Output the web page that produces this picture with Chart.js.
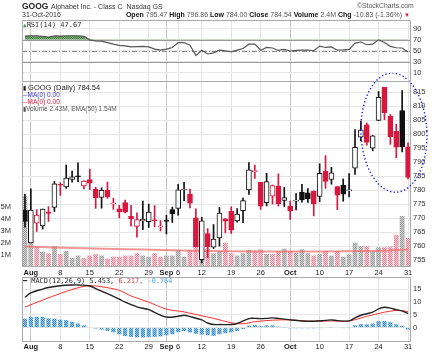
<!DOCTYPE html>
<html lang="en">
<head>
<meta charset="UTF-8">
<title>GOOG daily</title>
<script src="https://cdn.jsdelivr.net/npm/chart.js"></script>
<style>
  body { margin: 0; background: #fff; }
  #wrap { position: relative; width: 435px; height: 352px; overflow: hidden; font-family: "Liberation Sans", Arial, sans-serif; color: #222; }
  canvas { position: absolute; left: 0; }
  .t { position: absolute; white-space: nowrap; z-index: 5; line-height: 1; }
  .mono { font-family: "DejaVu Sans Mono", monospace; }
</style>
</head>
<body>
<div id="wrap">
  <canvas id="mainChart" width="435" height="282" style="top:0;z-index:1"></canvas>
  <canvas id="rsiChart" width="435" height="90" style="top:0;z-index:2"></canvas>
  <canvas id="macdChart" width="435" height="84" style="top:268px;z-index:1"></canvas>

  <div class="t" style="left:22px;top:2px;font-weight:bold;font-size:8.5px;">GOOG</div>
  <div class="t" style="left:51px;top:3px;font-size:7px;color:#333;">Alphabet Inc. - Class C&nbsp; Nasdaq GS</div>
  <div class="t" style="left:357px;top:3px;font-size:6.8px;color:#555;">&copy;StockCharts.com</div>
  <div class="t" style="left:22px;top:11px;font-size:7px;color:#333;">31-Oct-2016</div>
  <div class="t" style="right:25px;top:11px;font-size:7px;color:#555;"><b style="color:#111">Open</b> 795.47 <b style="color:#111">High</b> 796.86 <b style="color:#111">Low</b> 784.00 <b style="color:#111">Close</b> 784.54 <b style="color:#111">Volume</b> 2.4M <b style="color:#111">Chg</b> -10.83 (-1.36%) <span style="color:#d8173f;font-size:6px">&#9660;</span></div>

  <div class="t mono" style="left:23px;top:22px;font-size:7px;color:#333;"><span style="color:#4f8a4f;font-size:6px">&#9650;</span>RSI(14) 47.67</div>

  <div class="t" style="left:23px;top:84px;font-size:7.5px;color:#222;"><span style="font-size:6px">&#9646;</span> GOOG (Daily) 784.54</div>
  <div class="t" style="left:23px;top:92px;font-size:6.5px;color:#3434c8;">&#9472;MA(0) 0.00</div>
  <div class="t" style="left:23px;top:99px;font-size:6.5px;color:#e0203c;">&#9472;MA(0) 0.00</div>
  <div class="t" style="left:23px;top:106px;font-size:6.5px;color:#555;"><span style="font-size:6px">&#9646;</span>Volume 2.43M, EMA(50) 1.54M</div>

  <div class="t mono" style="left:23px;top:278px;font-size:6.9px;color:#222;">&#9473; MACD(12,26,9) 5.453, <span style="color:#f03a3a">6.217,</span> <span style="color:#4aa3df">-0.764</span></div>
</div>

<script>
  // trading days shown on the chart
  const dates = ['Jul 29',
    'Aug 1', 'Aug 2', 'Aug 3', 'Aug 4', 'Aug 5', 'Aug 8', 'Aug 9', 'Aug 10', 'Aug 11', 'Aug 12',
    'Aug 15', 'Aug 16', 'Aug 17', 'Aug 18', 'Aug 19', 'Aug 22', 'Aug 23', 'Aug 24', 'Aug 25', 'Aug 26',
    'Aug 29', 'Aug 30', 'Aug 31',
    'Sep 1', 'Sep 2', 'Sep 6', 'Sep 7', 'Sep 8', 'Sep 9', 'Sep 12', 'Sep 13', 'Sep 14', 'Sep 15', 'Sep 16',
    'Sep 19', 'Sep 20', 'Sep 21', 'Sep 22', 'Sep 23', 'Sep 26', 'Sep 27', 'Sep 28', 'Sep 29', 'Sep 30',
    'Oct 3', 'Oct 4', 'Oct 5', 'Oct 6', 'Oct 7', 'Oct 10', 'Oct 11', 'Oct 12', 'Oct 13', 'Oct 14',
    'Oct 17', 'Oct 18', 'Oct 19', 'Oct 20', 'Oct 21', 'Oct 24', 'Oct 25', 'Oct 26', 'Oct 27', 'Oct 28', 'Oct 31'];

  const ohlcOpen = [772.71,
    761.09, 768.2, 767.18, 772.22, 773.78, 782.0, 781.1, 783.75, 785.0, 781.5,
    783.75, 780.3, 777.32, 780.01, 775.0, 773.27, 775.48, 770.58, 767.0, 769.0,
    768.74, 769.33, 767.01,
    769.25, 773.01, 773.45, 780.0, 778.59, 770.1, 755.13, 764.48, 759.61, 762.89, 769.75,
    772.42, 769.0, 772.66, 780.0, 786.59, 782.74, 775.5, 777.85, 781.44, 776.33,
    774.25, 776.03, 779.31, 779.0, 779.66, 777.71, 786.66, 783.76, 781.22, 781.65,
    779.8, 787.85, 798.86, 803.3, 795.0, 804.9, 816.68, 806.34, 801.0, 808.35, 795.47];
  const ohlcHigh = [778.55,
    780.43, 773.0, 773.21, 774.07, 783.04, 782.63, 788.94, 786.81, 789.75, 783.4,
    787.49, 780.98, 780.81, 782.86, 777.1, 774.54, 776.44, 774.5, 771.89, 776.08,
    774.99, 774.47, 769.09,
    771.02, 773.92, 782.0, 782.73, 780.35, 773.24, 770.29, 766.22, 767.68, 773.8, 769.75,
    774.0, 773.33, 777.16, 789.85, 788.93, 782.74, 785.99, 781.81, 785.8, 780.94,
    776.07, 778.71, 782.07, 780.48, 779.66, 789.38, 792.28, 788.13, 781.22, 783.95,
    785.85, 801.61, 804.63, 803.97, 799.5, 815.18, 816.68, 806.98, 803.49, 815.49, 796.86];
  const ohlcLow = [766.77,
    761.09, 765.2, 766.07, 768.79, 772.34, 778.09, 780.57, 782.78, 782.97, 780.4,
    780.11, 773.44, 773.53, 777.0, 773.13, 770.05, 771.79, 767.07, 763.18, 765.85,
    766.62, 766.84, 765.38,
    764.3, 768.41, 771.0, 776.2, 773.58, 759.66, 754.0, 755.8, 759.11, 759.96, 764.66,
    764.44, 768.53, 768.3, 778.44, 784.15, 773.07, 774.31, 774.97, 774.23, 774.09,
    769.5, 772.89, 775.65, 775.54, 770.75, 775.87, 780.58, 782.06, 773.0, 776.0,
    777.5, 785.57, 797.64, 796.03, 794.0, 804.82, 805.14, 796.32, 791.5, 793.59, 784.0];
  const ohlcClose = [768.79,
    772.88, 771.07, 773.18, 771.61, 782.22, 781.76, 784.26, 784.68, 784.85, 783.22,
    782.44, 777.14, 779.91, 777.5, 775.42, 772.15, 772.08, 769.64, 769.41, 769.54,
    772.15, 769.09, 767.05,
    768.78, 771.46, 780.08, 780.35, 775.32, 759.66, 769.02, 759.69, 762.49, 771.76, 768.88,
    765.7, 771.41, 776.22, 787.21, 786.9, 774.21, 783.01, 781.56, 775.01, 777.29,
    772.56, 776.43, 776.47, 776.86, 775.08, 785.94, 783.07, 786.14, 778.19, 778.53,
    779.96, 795.26, 801.5, 796.97, 799.37, 813.11, 807.67, 799.07, 795.35, 795.37, 784.54];

  // volume, millions
  const volume = [5.9,
    3.0, 1.7, 1.28, 1.14, 1.75, 1.08, 1.33, 0.75, 0.95, 0.75,
    0.95, 1.08, 0.95, 0.7, 0.86, 0.86, 0.95, 0.95, 1.14, 0.95,
    0.86, 1.14, 0.86,
    0.95, 0.95, 1.42, 0.86, 1.42, 1.85, 1.45, 1.55, 1.14, 1.33, 2.03,
    1.14, 0.95, 1.14, 1.42, 1.36, 1.47, 1.08, 1.08, 1.31, 1.53,
    1.33, 1.19, 1.47, 1.14, 0.95, 1.08, 1.33, 0.95, 1.33, 0.86,
    1.06, 2.03, 1.75, 1.75, 1.28, 1.64, 1.64, 1.70, 2.67, 4.25, 2.43];
  const volEma = [1.70, null, null, null, null, null, null, null, null, null,
    1.56, null, null, null, null, null, null, null, null, null,
    1.45, null, null, null, null, null, null, null, null, null,
    1.34, null, null, null, null, null, null, null, null, null,
    1.30, null, null, null, null, null, null, null, null, null,
    1.30, null, null, null, null, null, null, null, 1.34, null,
    null, null, 1.38, null, null, 1.45];

  const rsi = [77, 77.5, 77.5, 76.5, 75, 77.5, 77, 77.5, 77.5, 77.5,
    76.5, 70, 68, 67.5, 65, 62, 60, 59, 57, 57.5,
    58, 57, 53, 51, 53, 56, 65, 65, 60, 41,
    51, 44, 46, 51, 50, 48, 51, 54, 62, 62,
    51, 56, 55, 50.5, 52.5, 49.5, 50.5, 51, 51, 50,
    58.5, 56, 57, 51, 51.5, 52.5, 64, 66, 61, 62,
    70, 65, 58, 55.5, 55, 47.67];

  const macd = [11.8, 13.5, null, 15.0, 15.6, null, 16.3, null, 16.6, 16.6,
    null, 16.2, 15.2, null, 13.2, null, 11.1, 9.9, null, 8.1,
    null, 7.0, 5.9, null, 4.1, null, 4.4, 4.8, 4.3, null,
    3.0, 1.8, 1.2, 1.2, null, 1.2, 1.6, null, 3.5, 3.6,
    3.5, 3.6, 3.8, 3.6, 3.3, 3.0, null, 2.6, null, 2.5,
    null, 2.8, 3.0, 2.7, null, 2.6, 3.8, 4.8, 5.4, 6.0,
    7.3, 7.9, 7.6, 7.0, 6.5, 5.453];
  const signal = [8.0, null, null, 10.7, null, null, 13.3, null, null, 15.5,
    null, 16.3, null, 15.9, null, null, 14.5, null, 12.3, null,
    null, 9.9, null, null, 7.2, null, null, 6.1, null, null,
    4.6, null, 3.6, null, null, 1.9, null, 1.5, null, 2.3,
    null, null, 2.9, null, null, 3.0, null, null, 2.5, null,
    null, null, 2.6, null, null, 2.6, null, null, 4.4, null,
    null, 6.0, null, 6.7, 6.6, 6.217];
  const hist = [3.5, 4.2, 4.2, 4.2, 3.6, 3.5, 3.1, 2.9, 2.3, 1.6,
    0.9, 0.2, -0.4, -0.8, -1.3, -1.8, -2.6, -3.3, -3.6, -3.8,
    -3.8, -3.7, -3.6, -3.4, -3.0, -2.6, -1.8, -1.4, -1.9, -2.4,
    -2.7, -3.0, -3.2, -2.6, -2.2, -1.8, -1.3, -0.6, 0.8, 1.0,
    0.6, 0.9, 0.9, 0.4, 0.1, -0.3, -0.3, -0.3, -0.3, -0.3,
    -0.1, 0.2, 0.3, 0.0, -0.1, -0.1, 0.9, 1.3, 1.3, 1.6,
    2.5, 2.6, 2.1, 1.3, 0.7, -0.764];

  // tick labels
  const tickDates = ['Aug 1', 'Aug 8', 'Aug 15', 'Aug 22', 'Aug 29', 'Sep 1', 'Sep 6', 'Sep 12', 'Sep 19', 'Sep 26',
    'Oct 3', 'Oct 10', 'Oct 17', 'Oct 24', 'Oct 31'];
  const tickTexts = ['Aug', '8', '15', '22', '29', 'Sep', '6', '12', '19', '26', 'Oct', '10', '17', '24', '31'];
  const monthTexts = ['Aug', 'Sep', 'Oct'];
  const priceTicks = [755, 760, 765, 770, 775, 780, 785, 790, 795, 800, 805, 810, 815];
  const volTicks = [1, 2, 3, 4, 5];
  const rsiTicks = [10, 30, 50, 70, 90];
  const macdTicks = [0, 5, 10, 15];

  const labelAt = dates.map(d => {
    const k = tickDates.indexOf(d);
    return k < 0 ? '' : tickTexts[k];
  });
  const isMonth = i => monthTexts.includes(labelAt[i]);

  Chart.defaults.font.family = '"Liberation Sans", Arial, sans-serif';
  Chart.defaults.animation = false;
  Chart.defaults.plugins.legend.display = false;
  Chart.defaults.plugins.tooltip.enabled = false;

  function hatch(c1, c2) {
    const p = document.createElement('canvas');
    p.width = 2; p.height = 2;
    const g = p.getContext('2d');
    g.fillStyle = c2; g.fillRect(0, 0, 2, 2);
    g.fillStyle = c1; g.fillRect(0, 0, 1, 1); g.fillRect(1, 1, 1, 1);
    return g.createPattern(p, 'repeat');
  }
  const grayHatch = hatch('#9a9a9a', '#d2d2d2');
  const pinkHatch = hatch('#ef7f93', '#fbd3db');
  const blueHatch = hatch('#2f85c4', '#9fcbea');
  const greenHatch = hatch('#3f7a3c', '#86b582');

  const RED = '#d8173f', BLACK = '#111';
  const up = ohlcClose.map((c, i) => i === 0 || c >= ohlcClose[i - 1]);
  const hollow = ohlcClose.map((c, i) => c > ohlcOpen[i]);
  const candleColor = up.map(u => u ? BLACK : RED);

  const bodies = ohlcOpen.map((o, i) => {
    let lo = Math.min(o, ohlcClose[i]), hi = Math.max(o, ohlcClose[i]);
    if (hi - lo < 0.35) { const m = (hi + lo) / 2; lo = m - 0.18; hi = m + 0.18; }
    return [lo, hi];
  });
  const wicks = ohlcLow.map((l, i) => [l, ohlcHigh[i]]);

  function xAxis(h, showLabels, pad) {
    return {
      type: 'category',
      offset: true,
      grid: {
        offset: false, drawTicks: false,
        color: c => !labelAt[c.index] ? 'rgba(0,0,0,0)' : (isMonth(c.index) ? '#c6c6c6' : '#e3e3e3')
      },
      border: { display: false },
      ticks: {
        display: showLabels, autoSkip: false, maxRotation: 0, minRotation: 0, padding: pad,
        color: '#222',
        font: c => ({ size: 7.5, weight: isMonth(c.index) ? 'bold' : 'normal' }),
        callback: (v, i) => labelAt[i]
      },
      afterFit: s => { s.height = h; }
    };
  }

  function yRight(min, max, ticks) {
    return {
      position: 'right', min: min, max: max,
      afterBuildTicks: s => { s.ticks = ticks.map(v => ({ value: v })); },
      grid: { drawTicks: false, color: '#e6e6e6' },
      border: { display: false },
      ticks: { padding: 2, color: '#333', font: { size: 7.5 } },
      afterFit: s => { s.width = 24; }
    };
  }

  // frame round a panel
  function panelBox(sides) {
    return {
      id: 'panelBox',
      afterDraw(chart) {
        const a = chart.chartArea, c = chart.ctx;
        const l = Math.round(a.left) + 0.5, r = Math.round(a.right) - 0.5;
        const t = Math.round(a.top) + 0.5, b = Math.round(a.bottom) - 0.5;
        c.save();
        c.strokeStyle = '#a9a9a9'; c.lineWidth = 1;
        c.beginPath();
        if (sides.includes('t')) { c.moveTo(l, t); c.lineTo(r, t); }
        if (sides.includes('b')) { c.moveTo(l, b); c.lineTo(r, b); }
        c.moveTo(l, t); c.lineTo(l, b);
        c.moveTo(r, t); c.lineTo(r, b);
        c.stroke();
        c.restore();
      }
    };
  }

  // ---- RSI panel
  const rsiLevels = [
    { v: 70, dash: [], color: '#9a9a9a' },
    { v: 50, dash: [5, 2, 1, 2], color: '#8a8a8a' },
    { v: 30, dash: [], color: '#9a9a9a' }
  ];
  const rsiLines = {
    id: 'rsiLines',
    beforeDatasetsDraw(chart) {
      const y = chart.scales.y, a = chart.chartArea, c = chart.ctx;
      c.save();
      rsiLevels.forEach(lv => {
        const py = Math.round(y.getPixelForValue(lv.v)) + 0.5;
        c.strokeStyle = lv.color; c.lineWidth = 1; c.setLineDash(lv.dash);
        c.beginPath(); c.moveTo(a.left, py); c.lineTo(a.right, py); c.stroke();
      });
      c.restore();
    }
  };

  new Chart(document.getElementById('rsiChart'), {
    type: 'line',
    data: {
      labels: dates,
      datasets: [{
        data: rsi,
        borderColor: '#555',
        borderWidth: 1.2,
        pointRadius: 0,
        tension: 0,
        fill: { target: { value: 70 }, above: greenHatch, below: 'rgba(0,0,0,0)' }
      }]
    },
    options: {
      responsive: false,
      events: [],
      layout: { padding: { top: 20, left: 22, right: 0, bottom: 0 } },
      scales: {
        x: xAxis(8, false, 0),
        y: Object.assign(yRight(-7.5, 106.5, rsiTicks), { grid: { drawTicks: false, color: '#e8e8e8' } })
      }
    },
    plugins: [rsiLines, panelBox('tb')]
  });

  // ---- price + volume panel
  const ellipseMark = {
    id: 'ellipseMark',
    afterDraw(chart) {
      const x = chart.scales.x, y = chart.scales.y, c = chart.ctx;
      const cx = x.getPixelForValue(62.6), cy = y.getPixelForValue(800.5);
      const rx = x.getPixelForValue(62.6 + 5.6) - cx;
      const ry = y.getPixelForValue(800.5 - 21.3) - cy;
      c.save();
      c.strokeStyle = '#1414e6'; c.lineWidth = 1.4; c.setLineDash([1.3, 2.3]);
      c.beginPath(); c.ellipse(cx, cy, rx, ry, -0.04, 0, Math.PI * 2); c.stroke();
      c.restore();
    }
  };

  new Chart(document.getElementById('mainChart'), {
    data: {
      labels: dates,
      datasets: [
        {
          type: 'bar', yAxisID: 'y', order: 1, grouped: false,
          data: bodies,
          backgroundColor: hollow.map((h, i) => h ? '#fff' : candleColor[i]),
          borderColor: candleColor,
          borderWidth: 1, borderSkipped: false,
          barThickness: 5
        },
        {
          type: 'bar', yAxisID: 'y', order: 2, grouped: false,
          data: wicks,
          backgroundColor: candleColor,
          borderWidth: 0,
          barThickness: 1
        },
        {
          type: 'line', yAxisID: 'yVol', order: 3,
          data: volEma, spanGaps: true,
          borderColor: 'rgba(240,105,105,0.7)', borderWidth: 2,
          pointRadius: 0, tension: 0.3
        },
        {
          type: 'bar', yAxisID: 'yVol', order: 4, grouped: false,
          data: volume,
          backgroundColor: up.map(u => u ? grayHatch : pinkHatch),
          borderWidth: 0,
          barPercentage: 0.82, categoryPercentage: 1
        }
      ]
    },
    options: {
      responsive: false,
      events: [],
      layout: { padding: { top: 82, left: 0, right: 0, bottom: 0 } },
      scales: {
        x: xAxis(15, true, 1),
        y: yRight(752.5, 818.6, priceTicks),
        yVol: {
          position: 'left', min: 0, max: 15.4,
          afterBuildTicks: s => { s.ticks = volTicks.map(v => ({ value: v })); },
          grid: { display: false },
          border: { display: false },
          ticks: { padding: 3, color: '#333', font: { size: 7.5 }, callback: v => v + 'M' },
          afterFit: s => { s.width = 22; }
        }
      }
    },
    plugins: [panelBox('b'), ellipseMark]
  });

  // ---- MACD panel
  new Chart(document.getElementById('macdChart'), {
    data: {
      labels: dates,
      datasets: [
        {
          type: 'line', order: 1, data: macd, spanGaps: true,
          borderColor: '#222', borderWidth: 1.4, pointRadius: 0, tension: 0.35
        },
        {
          type: 'line', order: 2, data: signal, spanGaps: true,
          borderColor: '#ff3030', borderWidth: 1, pointRadius: 0, tension: 0.35
        },
        {
          type: 'bar', order: 3, data: hist,
          backgroundColor: blueHatch, borderWidth: 0,
          barPercentage: 0.72, categoryPercentage: 1
        }
      ]
    },
    options: {
      responsive: false,
      events: [],
      layout: { padding: { top: 9, left: 22, right: 0, bottom: 0 } },
      scales: {
        x: xAxis(10, true, 0),
        y: yRight(-5.6, 19.7, macdTicks)
      }
    },
    plugins: [panelBox('tb')]
  });
</script>
</body>
</html>
